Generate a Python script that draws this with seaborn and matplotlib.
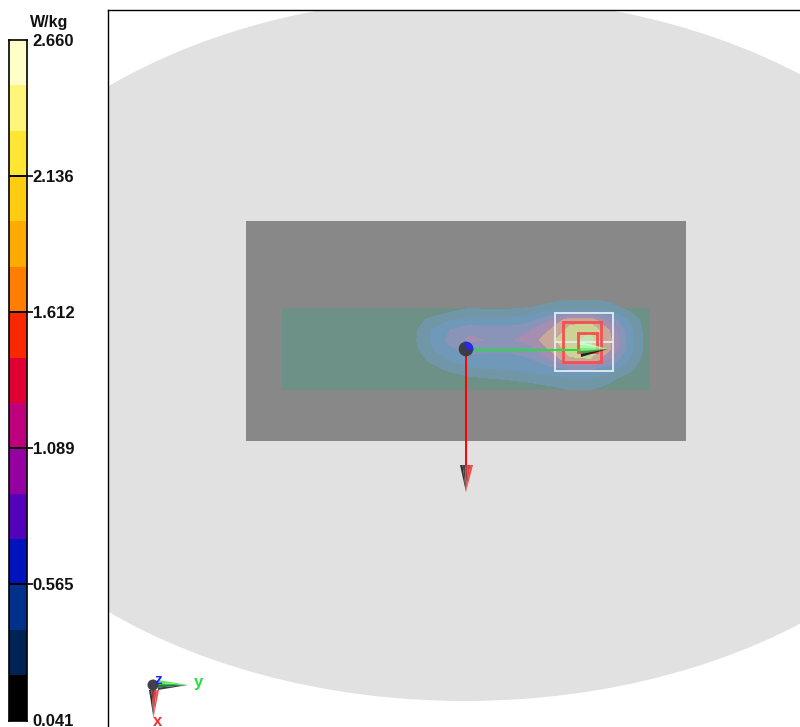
import numpy as np
import matplotlib
matplotlib.use("Agg")
import matplotlib.pyplot as plt
from matplotlib.colors import ListedColormap
from matplotlib.patches import Ellipse, Rectangle, Circle, Wedge
from matplotlib.transforms import ScaledTranslation
import seaborn as sns

# colour scale, top band first
scale_ticks = ["2.660", "2.136", "1.612", "1.089", "0.565", "0.041"]
band_values = [2.573, 2.398, 2.224, 2.049, 1.874, 1.700, 1.525, 1.351,
               1.176, 1.001, 0.827, 0.652, 0.478, 0.303, 0.128]
band_colors = ["#ffffc8", "#fff578", "#ffe632", "#ffcc0f", "#ffaa00", "#ff7d00", "#fa2800", "#e10032",
               "#be007d", "#9600a0", "#5500b9", "#0014be", "#00328c", "#002355", "#000000"]

# field over the scan area, read by eye (contour step)
field_x = [410, 430, 450, 470, 490, 510, 530, 550, 570, 590, 610, 630, 650]
field_y = [300, 310, 320, 330, 340, 350, 360, 370, 380, 390]
field = [
    [0, 0, 0, 0, 0, 0, 0, 0.6, 1.1, 1.1, 0.7, 0, 0],
    [0, 0, 0.7, 1.2, 1.0, 1.1, 1.3, 1.8, 2.0, 2.0, 1.8, 0.8, 0],
    [0, 1.3, 1.9, 2.2, 2.1, 2.2, 2.6, 3.8, 5.6, 5.6, 3.6, 1.8, 0.1],
    [0.4, 1.9, 3.0, 3.7, 3.4, 3.4, 3.9, 5.0, 6.3, 6.9, 4.9, 2.2, 0.2],
    [0.5, 2.0, 3.3, 4.2, 3.9, 3.9, 4.4, 5.7, 6.7, 7.3, 5.2, 2.4, 0.2],
    [0.3, 1.8, 2.8, 3.3, 3.2, 3.2, 3.6, 5.0, 6.4, 7.0, 5.0, 2.4, 0.2],
    [0, 1.2, 2.0, 2.5, 2.5, 2.5, 2.8, 3.8, 5.8, 5.8, 3.8, 1.8, 0.1],
    [0, 0.4, 1.2, 1.8, 1.9, 2.0, 2.2, 2.5, 2.8, 2.8, 2.3, 1.2, 0],
    [0, 0, 0, 0.5, 0.8, 1.0, 1.3, 1.5, 1.7, 1.7, 1.2, 0, 0],
    [0, 0, 0, 0, 0, 0, 0, 0.6, 1.0, 1.0, 0.5, 0, 0],
]
field_levels = [1, 2, 3, 4, 5, 6, 7, 8]
field_colors = ["#7096a8", "#7098b8", "#8a94b8", "#a58eb0", "#c8a898", "#cdd394", "#c0e4b0"]

W, H = 800, 727
sns.set_style("white")
plt.rcParams["font.family"] = ["Liberation Sans", "DejaVu Sans"]
fig = plt.figure(figsize=(W / 100, H / 100), dpi=100)


def px_axes(x0, y0, x1, y1):
    return fig.add_axes([x0 / W, 1 - y1 / H, (x1 - x0) / W, (y1 - y0) / H])


def cone(ax, base_a, base_b, tip, colors, zorder=8):
    # fan of slices from the tip, shaded across the base
    n = len(colors)
    for i, c in enumerate(colors):
        a = [base_a[k] + (base_b[k] - base_a[k]) * i / n for k in (0, 1)]
        b = [base_a[k] + (base_b[k] - base_a[k]) * (i + 1) / n for k in (0, 1)]
        ax.fill([a[0], b[0], tip[0]], [a[1], b[1], tip[1]], color=c, lw=0, zorder=zorder)


# scene in pixel coordinates
ax = px_axes(108, 10, 800, 727)
ax.set_xlim(108, 800)
ax.set_ylim(727, 10)
ax.set_xticks([])
ax.set_yticks([])
sns.despine(ax=ax, top=False, right=True, bottom=True)
for s in ("top", "left"):
    ax.spines[s].set_color("black")
    ax.spines[s].set_linewidth(1)

ax.add_patch(Ellipse((465, 349), 1072, 704, fc="#e1e1e1", ec="none", zorder=1))
ax.add_patch(Rectangle((246, 221), 440, 220, fc="#888888", ec="none", zorder=2))
ax.add_patch(Rectangle((282, 308), 368, 82, fc="#6e9187", ec="none", zorder=3))
ax.contourf(field_x, field_y, field, levels=field_levels, colors=field_colors, zorder=4, extend="neither")

# zoom scan boxes
ax.add_patch(Rectangle((555, 313), 58, 58, fc="none", ec="#e6ebf0", lw=1.3, zorder=5))
ax.plot([555, 613], [342, 342], color="#e6ebf0", lw=1.3, zorder=5)
ax.add_patch(Rectangle((562.5, 322), 38.5, 40, fc="none", ec="#f55050", lw=2, zorder=6))
ax.add_patch(Rectangle((578, 333), 18.5, 19, fc="none", ec="#f55050", lw=2, zorder=6))

# axes arrows at the peak
ax.plot([466, 466], [349, 466], color="#ff0000", lw=1.4, zorder=7)
ax.plot([466, 582], [350, 350], color="#22e03c", lw=1.4, zorder=7)
cone(ax, (460, 465), (473, 465), (466, 492), ["#333333", "#5a3a3a", "#a04040", "#e03c3c", "#f04a4a"])
cone(ax, (580, 342), (581, 357), (608, 349), ["#c8ffc8", "#a0ffa0", "#78f078", "#40a050", "#202020"])
ax.add_patch(Circle((466, 349), 7.3, fc="#3c3c46", ec="none", zorder=9))
ax.add_patch(Wedge((466, 349), 7.3, -105, 15, fc="#2828e6", ec="none", zorder=10))

# small orientation triad
cone(ax, (158, 680), (158, 690), (188, 685), ["#50f050", "#30c040", "#208040", "#404040"])
cone(ax, (149, 690), (159, 690), (153.5, 718), ["#303030", "#804040", "#e04040", "#f05050"])
ax.add_patch(Circle((153, 685), 5.5, fc="#404048", ec="none", zorder=9))
ax.text(198, 682, "y", color="#22e03c", fontsize=12, fontweight="bold", ha="center", va="center", zorder=11)
ax.text(158, 680, "z", color="#2020f0", fontsize=11, fontweight="bold", ha="center", va="center", zorder=11)
ax.text(158, 721, "x", color="#f03030", fontsize=12, fontweight="bold", ha="center", va="center", zorder=11)

# colour bar
cax = px_axes(9, 40, 27, 720.5)
bands = np.array(band_values).reshape(-1, 1)
sns.heatmap(bands, ax=cax, cmap=ListedColormap(band_colors[::-1]), vmin=0.041, vmax=2.660, cbar=False,
            xticklabels=False, yticklabels=False)
for s in cax.spines.values():
    s.set_visible(True)
    s.set_color("black")
    s.set_linewidth(1.2)
tick_pos = np.arange(len(scale_ticks)) * 3
for p in tick_pos[1:-1]:
    cax.axhline(p, color="black", lw=1.4)
cax.yaxis.tick_right()
cax.set_yticks(tick_pos)
cax.set_yticklabels(scale_ticks, fontsize=12, fontweight="bold", color="#111111", rotation=0)
cax.tick_params(axis="y", length=4, width=1.2, pad=0, right=True, color="black")
# no tick marks at the two ends of the bar
major = cax.yaxis.get_major_ticks()
major[0].tick2line.set_visible(False)
major[-1].tick2line.set_visible(False)
# lowest label sits just on the bottom edge of the picture
low = cax.get_yticklabels()[-1]
low.set_transform(low.get_transform() + ScaledTranslation(0, 1 / 100, fig.dpi_scale_trans))
fig.text(49 / W, 1 - 22 / H, "W/kg", fontsize=11.5, fontweight="bold", ha="center", va="center", color="#111111")

fig.savefig("out.png", dpi=100)
